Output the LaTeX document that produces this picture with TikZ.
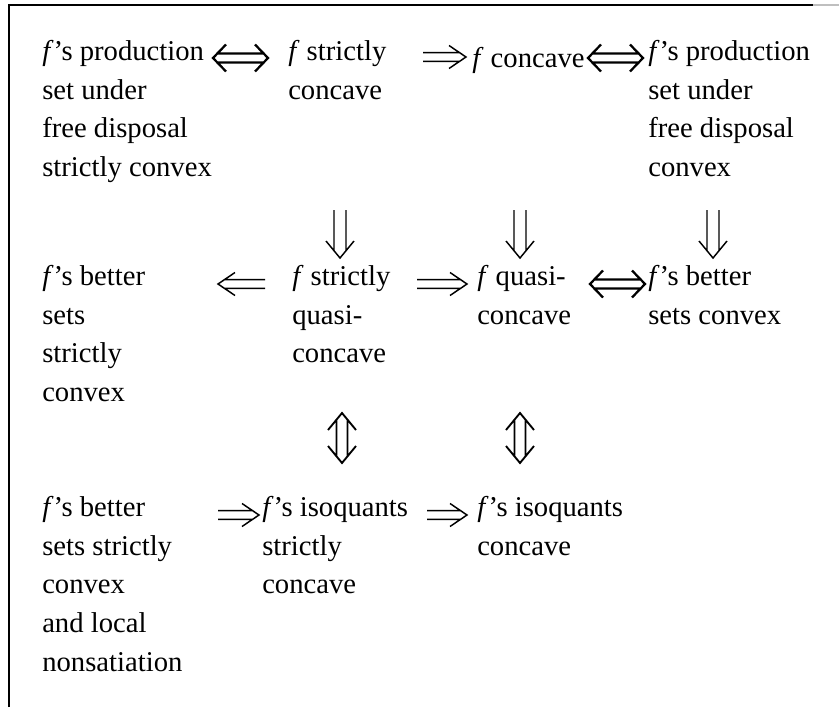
\documentclass[tikz,border=0pt]{standalone}
\usepackage{fontspec}
\setmainfont{Liberation Serif}
\usetikzlibrary{calc}

\newcommand{\fsym}{\textit{f}}

\tikzset{
  txt/.style={anchor=north west, align=left, inner sep=0pt,
    font=\fontsize{21.5}{29}\selectfont, execute at begin node=\strut},
  rimp/.style={line width=1.1pt, to path={
      ($(\tikztostart)+(0,-4.3)$) -- ($(\tikztotarget)+(-6,-4.3)$)
      ($(\tikztostart)+(0,4.3)$) -- ($(\tikztotarget)+(-6,4.3)$)
      ($(\tikztotarget)+(-17,-11.5)$) -- (\tikztotarget) -- ($(\tikztotarget)+(-17,11.5)$)}},
  limp/.style={line width=1.1pt, to path={
      ($(\tikztostart)+(0,-4.3)$) -- ($(\tikztotarget)+(6,-4.3)$)
      ($(\tikztostart)+(0,4.3)$) -- ($(\tikztotarget)+(6,4.3)$)
      ($(\tikztotarget)+(17,-11.5)$) -- (\tikztotarget) -- ($(\tikztotarget)+(17,11.5)$)}},
  dimp/.style={line width=1.1pt, to path={
      ($(\tikztostart)+(-6,0)$) -- ($(\tikztotarget)+(-6,-7)$)
      ($(\tikztostart)+(6,0)$) -- ($(\tikztotarget)+(6,-7)$)
      ($(\tikztotarget)+(-14,-17)$) -- (\tikztotarget) -- ($(\tikztotarget)+(14,-17)$)}},
  iffh/.style={line width=1.7pt, to path={
      ($(\tikztostart)+(4,-4.5)$) -- ($(\tikztotarget)+(-4,-4.5)$)
      ($(\tikztostart)+(4,4.5)$) -- ($(\tikztotarget)+(-4,4.5)$)
      ($(\tikztotarget)+(-13,-13.5)$) -- (\tikztotarget) -- ($(\tikztotarget)+(-13,13.5)$)
      ($(\tikztostart)+(13,-13.5)$) -- (\tikztostart) -- ($(\tikztostart)+(13,13.5)$)}},
  iffv/.style={line width=1.4pt, to path={
      ($(\tikztostart)+(-5.5,6.7)$) -- ($(\tikztotarget)+(-5.5,-6.7)$)
      ($(\tikztostart)+(5.5,6.7)$) -- ($(\tikztotarget)+(5.5,-6.7)$)
      ($(\tikztotarget)+(-14,-17)$) -- (\tikztotarget) -- ($(\tikztotarget)+(14,-17)$)
      ($(\tikztostart)+(-14,17)$) -- (\tikztostart) -- ($(\tikztostart)+(14,17)$)}},
}

\begin{document}
\begin{tikzpicture}[x=0.75pt, y=-0.75pt]
\useasboundingbox (0,0) rectangle (839,707);

% frame
\draw[line width=1.5pt] (9,707) -- (9,5) -- (813,5);
\draw[gray!50, line width=1.5pt] (813,5) -- (839,5);

% first row (tops sit one strut above the first baseline)
\node[txt] (A) at (42,40) {\fsym’s production\\set under\\free disposal\\strictly convex};
\node[txt] (B) at (288,40) {\fsym\ strictly\\concave};
\node[txt] (C) at (472,40) {\fsym\ concave};
\node[txt] (D) at (648,40) {\fsym’s production\\set under\\free disposal\\convex};

% second row
\node[txt] (E) at (42,265) {\fsym’s better\\sets\\strictly\\convex};
\node[txt] (F) at (292,265) {\fsym\ strictly\\quasi-\\concave};
\node[txt] (G) at (477,265) {\fsym\ quasi-\\concave};
\node[txt] (H) at (648,265) {\fsym’s better\\sets convex};

% third row
\node[txt] (I) at (42,496) {\fsym’s better\\sets strictly\\convex\\and local\\nonsatiation};
\node[txt] (J) at (262,496) {\fsym’s isoquants\\strictly\\concave};
\node[txt] (K) at (477,496) {\fsym’s isoquants\\concave};

% arrows between the entries
\coordinate (ab1) at (213,58);  \coordinate (ab2) at (268,58);
\coordinate (bc1) at (423,57);  \coordinate (bc2) at (466,57);
\coordinate (cd1) at (588,58);  \coordinate (cd2) at (643,58);
\draw[iffh] (ab1) to (ab2);
\draw[rimp] (bc1) to (bc2);
\draw[iffh] (cd1) to (cd2);

\coordinate (bf1) at (340,210); \coordinate (bf2) at (340,258);
\coordinate (cg1) at (520,210); \coordinate (cg2) at (520,258);
\coordinate (dh1) at (713,210); \coordinate (dh2) at (713,258);
\draw[dimp] (bf1) to (bf2);
\draw[dimp] (cg1) to (cg2);
\draw[dimp] (dh1) to (dh2);

\coordinate (fe1) at (265,284); \coordinate (fe2) at (218,284);
\coordinate (fg1) at (417,284); \coordinate (fg2) at (467,284);
\coordinate (gh1) at (590,284); \coordinate (gh2) at (645,284);
\draw[limp] (fe1) to (fe2);
\draw[rimp] (fg1) to (fg2);
\draw[iffh] (gh1) to (gh2);

\coordinate (fj1) at (342,413); \coordinate (fj2) at (342,463);
\coordinate (gk1) at (520,413); \coordinate (gk2) at (520,463);
\draw[iffv] (fj1) to (fj2);
\draw[iffv] (gk1) to (gk2);

\coordinate (ij1) at (218,515); \coordinate (ij2) at (259,515);
\coordinate (jk1) at (427,515); \coordinate (jk2) at (467,515);
\draw[rimp] (ij1) to (ij2);
\draw[rimp] (jk1) to (jk2);

\end{tikzpicture}
\end{document}
